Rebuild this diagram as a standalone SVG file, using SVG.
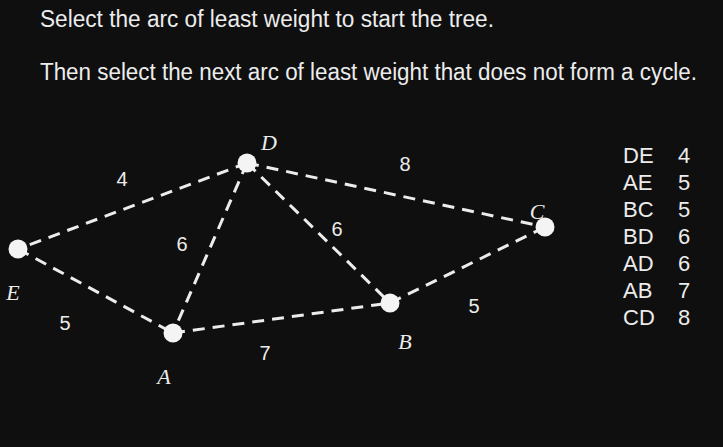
<svg xmlns="http://www.w3.org/2000/svg" width="723" height="447" viewBox="0 0 723 447">
<style>
.t{font-family:"Liberation Sans","DejaVu Sans",sans-serif;fill:#ececec;font-size:23px}
.w{font-family:"Liberation Sans","DejaVu Sans",sans-serif;fill:#ececec;font-size:20px;text-anchor:middle}
.n{font-family:"Liberation Serif","DejaVu Serif",serif;font-style:italic;fill:#ececec;font-size:22px;text-anchor:middle}
.e{stroke:#ececec;stroke-width:3;stroke-dasharray:12 8;fill:none}
.v{fill:#f4f4f4}
.tb{font-family:"Liberation Sans","DejaVu Sans",sans-serif;fill:#ececec;font-size:22px}
</style>
<rect width="723" height="447" fill="#0f0f0f"/>
<text class="t" x="40" y="27" textLength="454" lengthAdjust="spacingAndGlyphs">Select the arc of least weight to start the tree.</text>
<text class="t" x="40" y="80" textLength="657" lengthAdjust="spacingAndGlyphs">Then select the next arc of least weight that does not form a cycle.</text>
<g id="connectors">
<line class="e" x1="247" y1="163" x2="18" y2="249"/>
<line class="e" x1="18" y1="249" x2="173" y2="333"/>
<line class="e" x1="247" y1="163" x2="173" y2="333"/>
<line class="e" x1="173" y1="333" x2="390" y2="303"/>
<line class="e" x1="247" y1="163" x2="390" y2="303"/>
<line class="e" x1="247" y1="163" x2="545" y2="227"/>
<line class="e" x1="390" y1="303" x2="545" y2="227"/>
<text class="w" x="122" y="186">4</text>
<text class="w" x="65" y="330">5</text>
<text class="w" x="182" y="251">6</text>
<text class="w" x="337" y="236">6</text>
<text class="w" x="405" y="171">8</text>
<text class="w" x="265" y="360">7</text>
<text class="w" x="474" y="313">5</text>
</g>
<g id="node-D"><circle class="v" cx="247" cy="163" r="9.5"/><text class="n" x="269" y="150">D</text></g>
<g id="node-E"><circle class="v" cx="18" cy="249" r="9.5"/><text class="n" x="13" y="300">E</text></g>
<g id="node-A"><circle class="v" cx="173" cy="333" r="9.5"/><text class="n" x="164" y="384">A</text></g>
<g id="node-B"><circle class="v" cx="390" cy="303" r="9.5"/><text class="n" x="405" y="349">B</text></g>
<g id="node-C"><circle class="v" cx="545" cy="227" r="9.5"/><text class="n" x="537" y="219">C</text></g>
<g id="table">
<text class="tb" x="623" y="163">DE</text><text class="tb" x="678" y="163">4</text>
<text class="tb" x="623" y="190">AE</text><text class="tb" x="678" y="190">5</text>
<text class="tb" x="623" y="217">BC</text><text class="tb" x="678" y="217">5</text>
<text class="tb" x="623" y="244">BD</text><text class="tb" x="678" y="244">6</text>
<text class="tb" x="623" y="271">AD</text><text class="tb" x="678" y="271">6</text>
<text class="tb" x="623" y="298">AB</text><text class="tb" x="678" y="298">7</text>
<text class="tb" x="623" y="325">CD</text><text class="tb" x="678" y="325">8</text>
</g>
</svg>
